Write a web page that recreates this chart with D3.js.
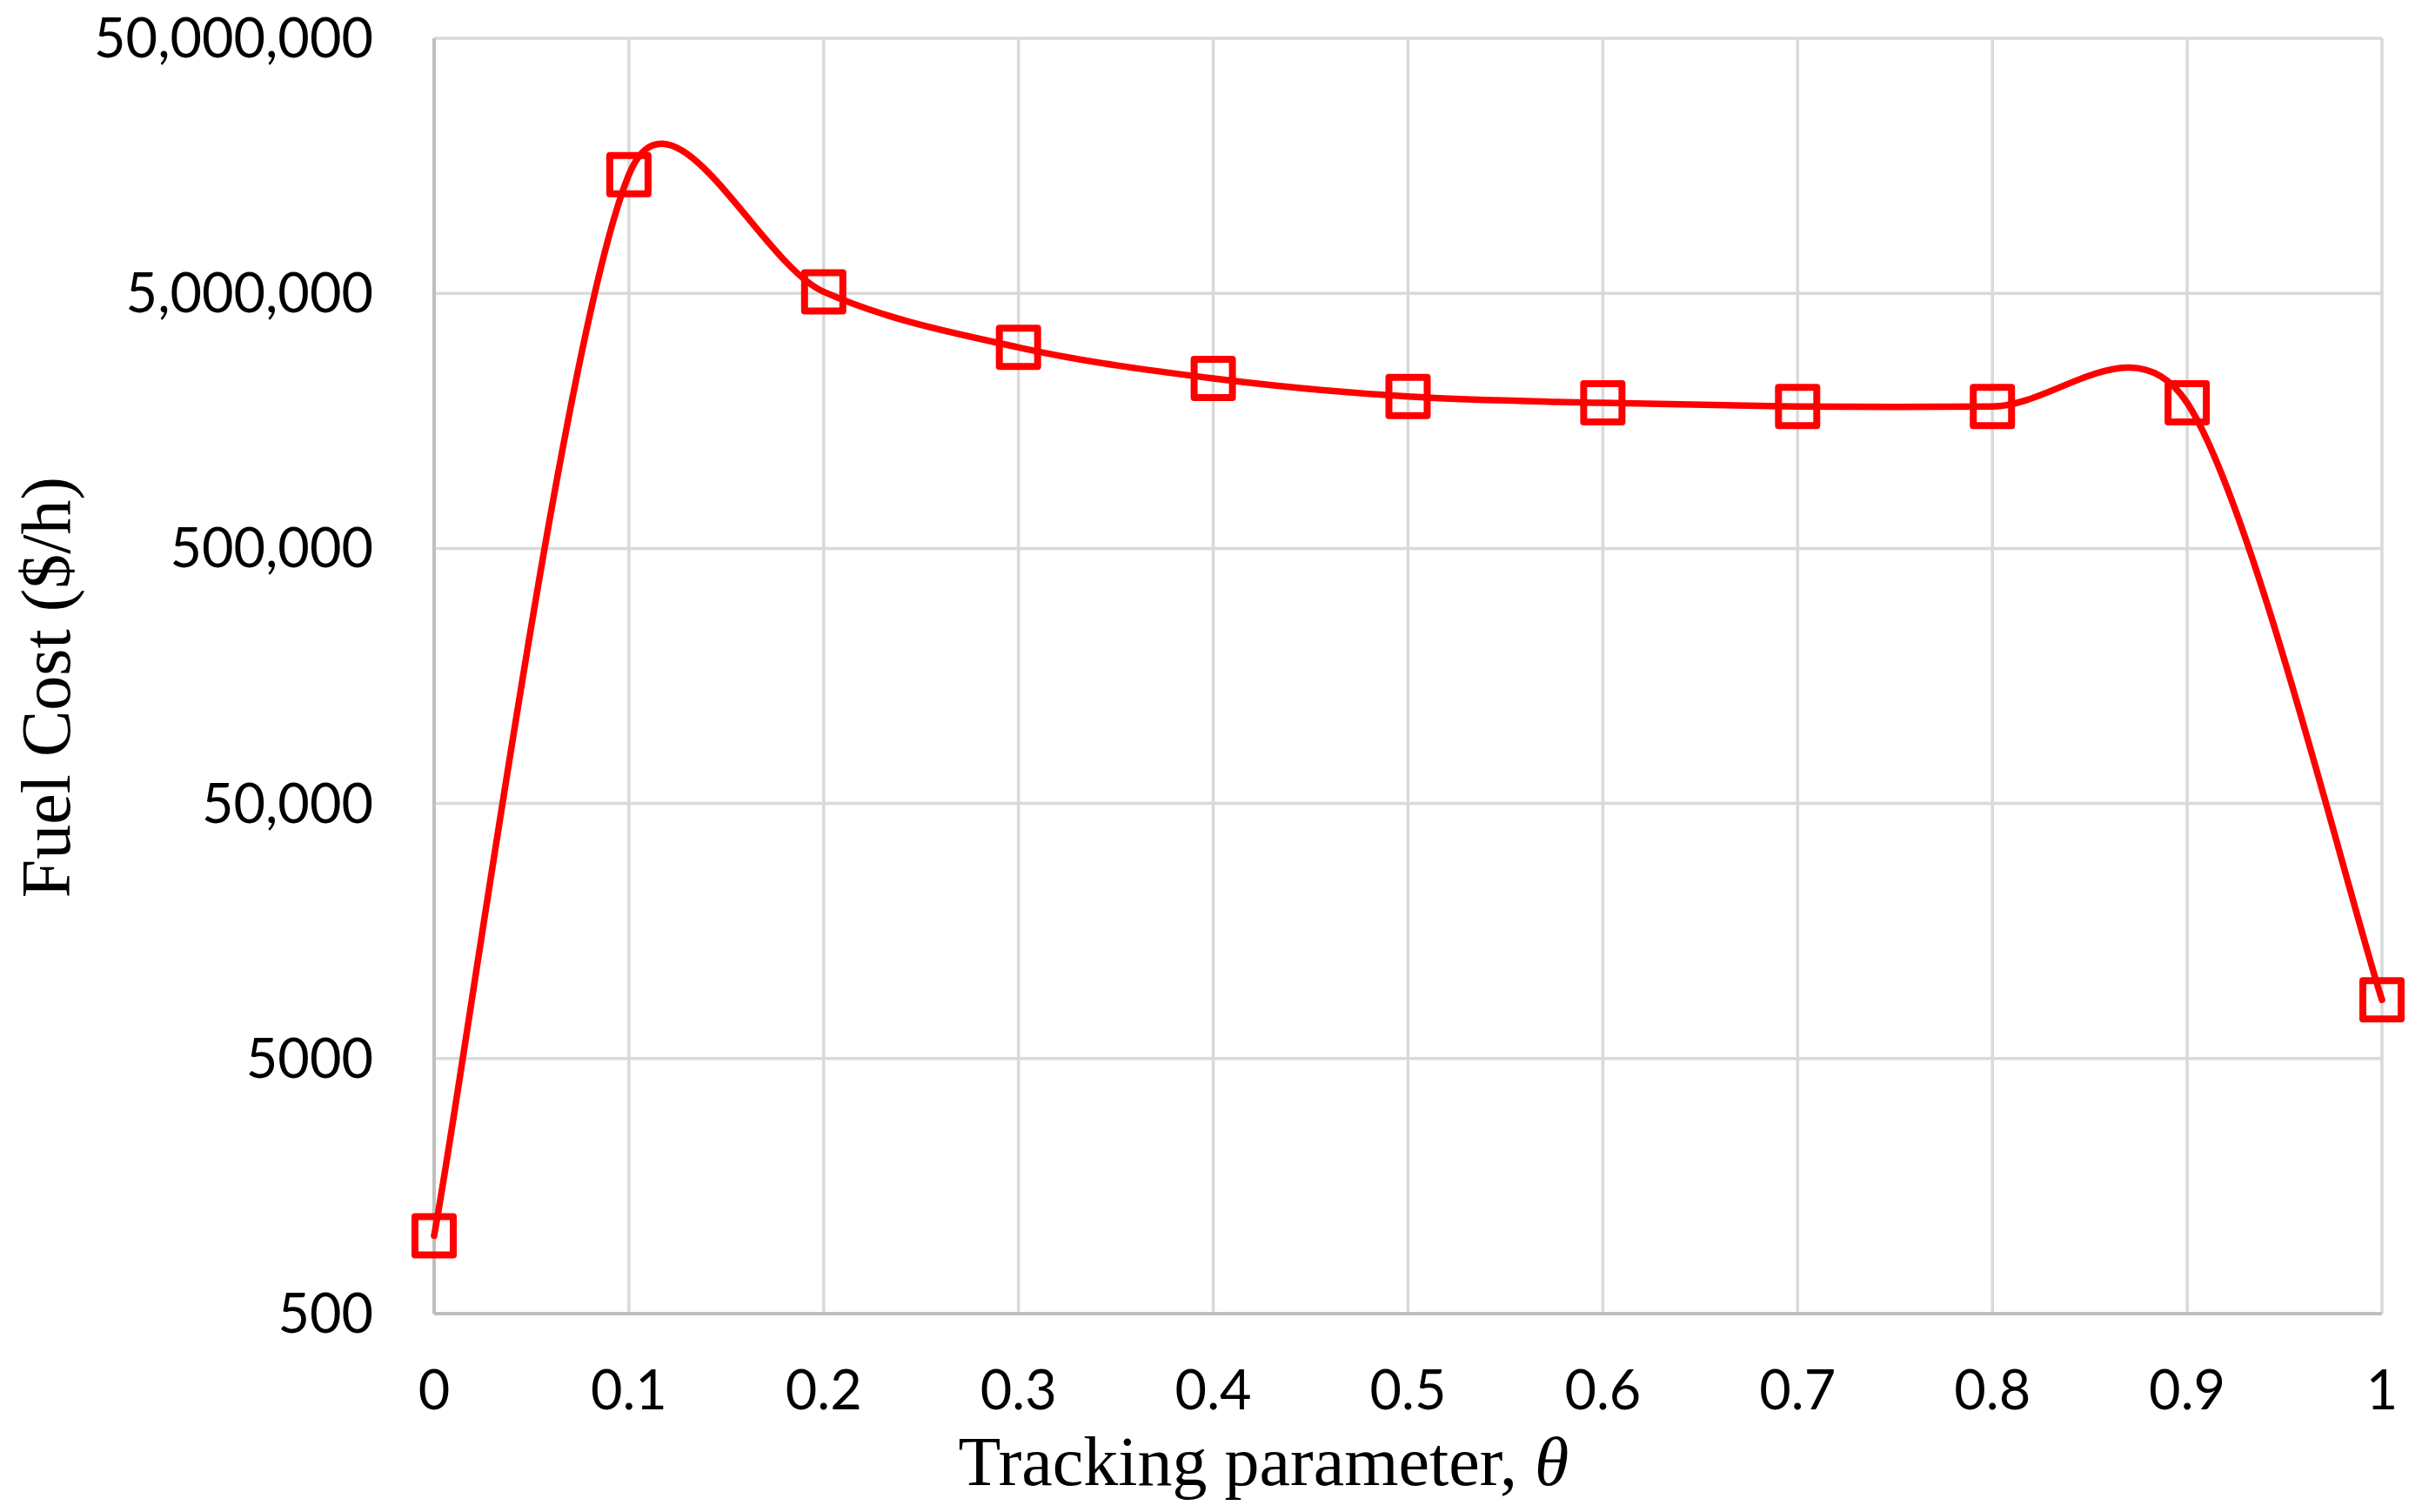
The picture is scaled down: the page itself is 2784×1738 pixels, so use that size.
<!DOCTYPE html>
<html>
<head>
<meta charset="utf-8">
<script src="https://cdnjs.cloudflare.com/ajax/libs/d3/7.8.5/d3.min.js"></script>
<style>
    body { margin: 0; background: #fff; }
    .tick-label { font-family: Lato, "Open Sans", sans-serif; font-size: 63px; fill: #000; }
    .axis-title { font-family: "Liberation Serif", serif; font-size: 80px; fill: #000; }
</style>
</head>
<body>
<script>
// chart data
var theta = [0, 0.1, 0.2, 0.3, 0.4, 0.5, 0.6, 0.7, 0.8, 0.9, 1];
var fuelCost = [1010, 14600000, 5070000, 3070000, 2320000, 1970000, 1860000, 1800000, 1800000, 1860000, 8500];

var xTickValues = [0, 0.1, 0.2, 0.3, 0.4, 0.5, 0.6, 0.7, 0.8, 0.9, 1];
var xTickLabels = ["0", "0.1", "0.2", "0.3", "0.4", "0.5", "0.6", "0.7", "0.8", "0.9", "1"];
var yTickValues = [500, 5000, 50000, 500000, 5000000, 50000000];
var yTickLabels = ["500", "5000", "50,000", "500,000", "5,000,000", "50,000,000"];

var xTitle = "Tracking parameter, ";
var xTitleSymbol = "\u03b8";
var yTitle = "Fuel Cost ($/h)";

// Define Globals
var width = 2784,
    height = 1738,
    margin = { top: 44, right: 46, bottom: 228, left: 499 },
    svg, x, y;

function init() {
    svg = d3.select("body").append("svg")
        .attr("width", width)
        .attr("height", height);

    svg.append("rect")
        .attr("width", width)
        .attr("height", height)
        .attr("fill", "#fff");

    x = d3.scaleLinear()
        .domain([0, 1])
        .range([margin.left, width - margin.right]);

    y = d3.scaleLog()
        .domain([500, 50000000])
        .range([height - margin.bottom, margin.top]);

    drawGrid();
    drawLabels();
    drawSeries();
}

function drawGrid() {
    var grid = svg.append("g").attr("class", "grid");

    grid.selectAll("line.h")
        .data(yTickValues.slice(1))
        .enter().append("line")
        .attr("class", "h")
        .attr("x1", x(0)).attr("x2", x(1))
        .attr("y1", function (d) { return y(d); })
        .attr("y2", function (d) { return y(d); })
        .attr("stroke", "#d9d9d9")
        .attr("stroke-width", 3.5);

    grid.selectAll("line.v")
        .data(xTickValues.slice(1))
        .enter().append("line")
        .attr("class", "v")
        .attr("y1", y(500)).attr("y2", y(50000000))
        .attr("x1", function (d) { return x(d); })
        .attr("x2", function (d) { return x(d); })
        .attr("stroke", "#d9d9d9")
        .attr("stroke-width", 3.5);

    // axis lines (darker)
    grid.append("line")
        .attr("x1", x(0)).attr("x2", x(1))
        .attr("y1", y(500)).attr("y2", y(500))
        .attr("stroke", "#bfbfbf")
        .attr("stroke-width", 4);

    grid.append("line")
        .attr("x1", x(0)).attr("x2", x(0))
        .attr("y1", y(500)).attr("y2", y(50000000))
        .attr("stroke", "#bfbfbf")
        .attr("stroke-width", 4);
}

function drawLabels() {
    svg.append("g")
        .selectAll("text")
        .data(yTickValues)
        .enter().append("text")
        .attr("class", "tick-label")
        .attr("x", x(0) - 70)
        .attr("y", function (d) { return y(d); })
        .attr("dy", "0.35em")
        .attr("text-anchor", "end")
        .text(function (d, i) { return yTickLabels[i]; });

    svg.append("g")
        .selectAll("text")
        .data(xTickValues)
        .enter().append("text")
        .attr("class", "tick-label")
        .attr("x", function (d) { return x(d); })
        .attr("y", y(500) + 110)
        .attr("text-anchor", "middle")
        .text(function (d, i) { return xTickLabels[i]; });

    var xt = svg.append("text")
        .attr("class", "axis-title")
        .attr("x", (x(0) + x(1)) / 2 - 166)
        .attr("y", 1707)
        .attr("font-size", "79px")
        .attr("text-anchor", "middle");
    xt.append("tspan").text(xTitle);
    xt.append("tspan").attr("font-style", "italic").text(xTitleSymbol);

    svg.append("text")
        .attr("class", "axis-title")
        .attr("transform", "translate(80," + 790 + ") rotate(-90)")
        .attr("text-anchor", "middle")
        .text(yTitle);
}

// Excel style smoothed line: bezier control points at 1/6 of the neighbour chord,
// but never further than half the segment length
function smoothPath(pts) {
    var p = d3.path();
    function dist(a, b) { return Math.hypot(b[0] - a[0], b[1] - a[1]); }
    p.moveTo(pts[0][0], pts[0][1]);
    for (var i = 0; i < pts.length - 1; i++) {
        var p0 = pts[Math.max(i - 1, 0)],
            p1 = pts[i],
            p2 = pts[i + 1],
            p3 = pts[Math.min(i + 2, pts.length - 1)];
        var d12 = dist(p1, p2),
            d02 = dist(p0, p2),
            d13 = dist(p1, p3);
        var f1 = d02 / 6 > d12 / 2 ? d12 / (2 * d02) : 1 / 6;
        var f2 = d13 / 6 > d12 / 2 ? d12 / (2 * d13) : 1 / 6;
        p.bezierCurveTo(
            p1[0] + f1 * (p2[0] - p0[0]), p1[1] + f1 * (p2[1] - p0[1]),
            p2[0] - f2 * (p3[0] - p1[0]), p2[1] - f2 * (p3[1] - p1[1]),
            p2[0], p2[1]);
    }
    return p.toString();
}

function drawSeries() {
    var pts = theta.map(function (t, i) { return [x(t), y(fuelCost[i])]; });

    svg.append("path")
        .attr("d", smoothPath(pts))
        .attr("fill", "none")
        .attr("stroke", "#ff0000")
        .attr("stroke-width", 7.5)
        .attr("stroke-linecap", "round");

    var s = 44;
    svg.append("g")
        .selectAll("rect")
        .data(theta)
        .enter().append("rect")
        .attr("x", function (d) { return x(d) - s / 2; })
        .attr("y", function (d, i) { return y(fuelCost[i]) - s / 2; })
        .attr("width", s)
        .attr("height", s)
        .attr("fill", "none")
        .attr("stroke", "#ff0000")
        .attr("stroke-width", 8)
        .attr("stroke-linejoin", "round");
}

window.onload = init;
</script>
</body>
</html>
